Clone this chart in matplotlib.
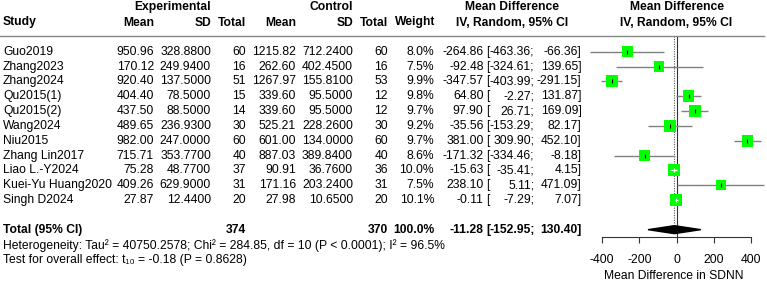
import matplotlib
matplotlib.use("Agg")
import matplotlib.pyplot as plt
from matplotlib.lines import Line2D
from matplotlib.patches import Polygon
from matplotlib.transforms import blended_transform_factory
import numpy as np

plt.rcParams['font.family'] = ['Liberation Sans', 'DejaVu Sans']

# ---------------- data ----------------
studies = ["Guo2019", "Zhang2023", "Zhang2024", "Qu2015(1)", "Qu2015(2)", "Wang2024",
           "Niu2015", "Zhang Lin2017", "Liao L.-Y2024", "Kuei-Yu Huang2020", "Singh D2024"]
exp_mean = [950.96, 170.12, 920.40, 404.40, 437.50, 489.65, 982.00, 715.71, 75.28, 409.26, 27.87]
exp_sd = [328.88, 249.94, 137.50, 78.50, 88.50, 236.93, 247.00, 353.77, 48.77, 629.90, 12.44]
exp_n = [60, 16, 51, 15, 14, 30, 60, 40, 37, 31, 20]
ctl_mean = [1215.82, 262.60, 1267.97, 339.60, 339.60, 525.21, 601.00, 887.03, 90.91, 171.16, 27.98]
ctl_sd = [712.24, 402.45, 155.81, 95.50, 95.50, 228.26, 134.00, 389.84, 36.76, 203.24, 10.65]
ctl_n = [60, 16, 53, 12, 12, 30, 60, 40, 36, 31, 20]
weight = [8.0, 7.5, 9.9, 9.8, 9.7, 9.2, 9.7, 8.6, 10.0, 7.5, 10.1]
md = [-264.86, -92.48, -347.57, 64.80, 97.90, -35.56, 381.00, -171.32, -15.63, 238.10, -0.11]
md_lo = [-463.36, -324.61, -403.99, -2.27, 26.71, -153.29, 309.90, -334.46, -35.41, 5.11, -7.29]
md_hi = [-66.36, 139.65, -291.15, 131.87, 169.09, 82.17, 452.10, -8.18, 4.15, 471.09, 7.07]
pooled = -11.28
pooled_lo = -152.95
pooled_hi = 130.40
total_exp = 374
total_ctl = 370
total_weight = 100.0
xticks = [-400, -200, 0, 200, 400]
het_text = ("Heterogeneity: Tau\u00b2 = 40750.2578; Chi\u00b2 = 284.85, df = 10 "
            "(P < 0.0001); I\u00b2 = 96.5%")
test_text = "Test for overall effect: t\u2081\u2080 = -0.18 (P = 0.8628)"
xlabel = "Mean Difference in SDNN"

# ---------------- layout ----------------
W, H = 767, 281
fig = plt.figure(figsize=(W / 100, H / 100), dpi=100)

px_per_unit = (751 - 602) / 800.0
zero_px = 676.5
ax_left_px, ax_right_px = 580, 767
ax_top_px, ax_bot_px = 36, 237
row0_px, row_step = 51.7, 14.83

ax = fig.add_axes([ax_left_px / W, 1 - ax_bot_px / H,
                   (ax_right_px - ax_left_px) / W, (ax_bot_px - ax_top_px) / H])
ax.set_xlim((ax_left_px - zero_px) / px_per_unit, (ax_right_px - zero_px) / px_per_unit)
y_top = (ax_top_px - row0_px) / row_step
y_bot = (ax_bot_px - row0_px) / row_step
ax.set_ylim(y_bot, y_top)
ax.patch.set_alpha(0)

n = len(studies)
rows = np.arange(n)
total_row = n + 1

FS = 8.7
tr = blended_transform_factory(fig.transFigure, ax.transData)

def fx(px):
    return px / W

def fy(px):
    return 1 - px / H

# ---------------- forest marks ----------------
ax.axvline(0, color='#333333', lw=0.8, zorder=1)
ax.vlines(pooled, y_top, total_row - 0.4, colors='#555555', linestyles=(0, (1, 1.2)), lw=0.8, zorder=1)

w = np.array(weight)
box_px = 12.0 * np.sqrt(w / w.max())
box_pt = box_px * 72 / 100
ax.hlines(rows, md_lo, md_hi, colors='#808080', lw=1.0, zorder=2)
ax.scatter(md, rows, marker='s', s=box_pt ** 2, color='#00FF00', edgecolors='none', zorder=3)
half_units = box_px / 2 / px_per_unit
for i in range(n):
    inside = (md_hi[i] - md_lo[i]) / 2 < half_units[i]
    c = 'white' if inside else 'black'
    if inside:
        ax.hlines(rows[i], md_lo[i], md_hi[i], colors='white', lw=0.9, zorder=4)
    ax.plot(md[i], rows[i], marker='|', ms=3.5, mew=0.8, color=c, zorder=4)

dh = 4.0 / row_step
ax.add_patch(Polygon([[pooled_lo, total_row], [pooled, total_row - dh],
                      [pooled_hi, total_row], [pooled, total_row + dh]],
                     closed=True, facecolor='black', edgecolor='black', zorder=3))

for s in ['top', 'right', 'left']:
    ax.spines[s].set_visible(False)
ax.spines['bottom'].set_bounds(xticks[0], xticks[-1])
ax.spines['bottom'].set_color('#333333')
ax.spines['bottom'].set_linewidth(0.8)
ax.set_yticks([])
ax.set_xticks(xticks)
ax.set_xticklabels([str(t) for t in xticks])
ax.tick_params(axis='x', direction='out', length=4.5, width=0.8, color='#333333',
               labelsize=FS, pad=7.5)
ax.set_xlabel(xlabel, fontsize=FS, labelpad=3)

# separator line
fig.add_artist(Line2D([0, 764 / W], [fy(36), fy(36)], transform=fig.transFigure,
                      color='#888888', lw=1.0))

# ---------------- headers ----------------
hb = dict(fontsize=FS, fontweight='bold', va='center')
fig.text(fx(173), fy(7), "Experimental", ha='center', **hb)
fig.text(fx(331.5), fy(7), "Control", ha='center', **hb)
fig.text(fx(512), fy(7), "Mean Difference", ha='center', **hb)
fig.text(fx(677), fy(7), "Mean Difference", ha='center', **hb)
fig.text(fx(3), fy(22.5), "Study", ha='left', **hb)
for xr, lab in [(154, "Mean"), (211, "SD"), (246, "Total"), (296, "Mean"),
                (353, "SD"), (388, "Total"), (435, "Weight")]:
    fig.text(fx(xr), fy(22.5), lab, ha='right', **hb)
fig.text(fx(512.5), fy(22.5), "IV, Random, 95% CI", ha='center', **hb)
fig.text(fx(676), fy(22.5), "IV, Random, 95% CI", ha='center', **hb)

# ---------------- table rows ----------------
def row_text(r, strings, bold=False):
    kw = dict(fontsize=FS, va='center', transform=tr,
              fontweight='bold' if bold else 'normal')
    for xp, s, ha in strings:
        fig.text(fx(xp), r, s, ha=ha, **kw)

for i in range(n):
    row_text(rows[i], [
        (3, studies[i], 'left'),
        (154, f"{exp_mean[i]:.2f}", 'right'),
        (211, f"{exp_sd[i]:.4f}", 'right'),
        (246, f"{exp_n[i]}", 'right'),
        (296, f"{ctl_mean[i]:.2f}", 'right'),
        (353, f"{ctl_sd[i]:.4f}", 'right'),
        (388, f"{ctl_n[i]}", 'right'),
        (434, f"{weight[i]:.1f}%", 'right'),
        (483.5, f"{md[i]:.2f}", 'right'),
        (486.5, "[", 'left'),
        (534.5, f"{md_lo[i]:.2f};", 'right'),
        (581.5, f"{md_hi[i]:.2f}]", 'right'),
    ])

row_text(total_row, [
    (3, "Total (95% CI)", 'left'),
    (246, f"{total_exp}", 'right'),
    (388, f"{total_ctl}", 'right'),
    (434, f"{total_weight:.1f}%", 'right'),
    (483.5, f"{pooled:.2f}", 'right'),
    (486.5, "[", 'left'),
    (534.5, f"{pooled_lo:.2f};", 'right'),
    (581.5, f"{pooled_hi:.2f}]", 'right'),
], bold=True)

fig.text(fx(3), fy(245.5), het_text, ha='left', va='center', fontsize=FS)
fig.text(fx(3), fy(259.5), test_text, ha='left', va='center', fontsize=FS)

fig.savefig("out.png", dpi=100, facecolor='white')
